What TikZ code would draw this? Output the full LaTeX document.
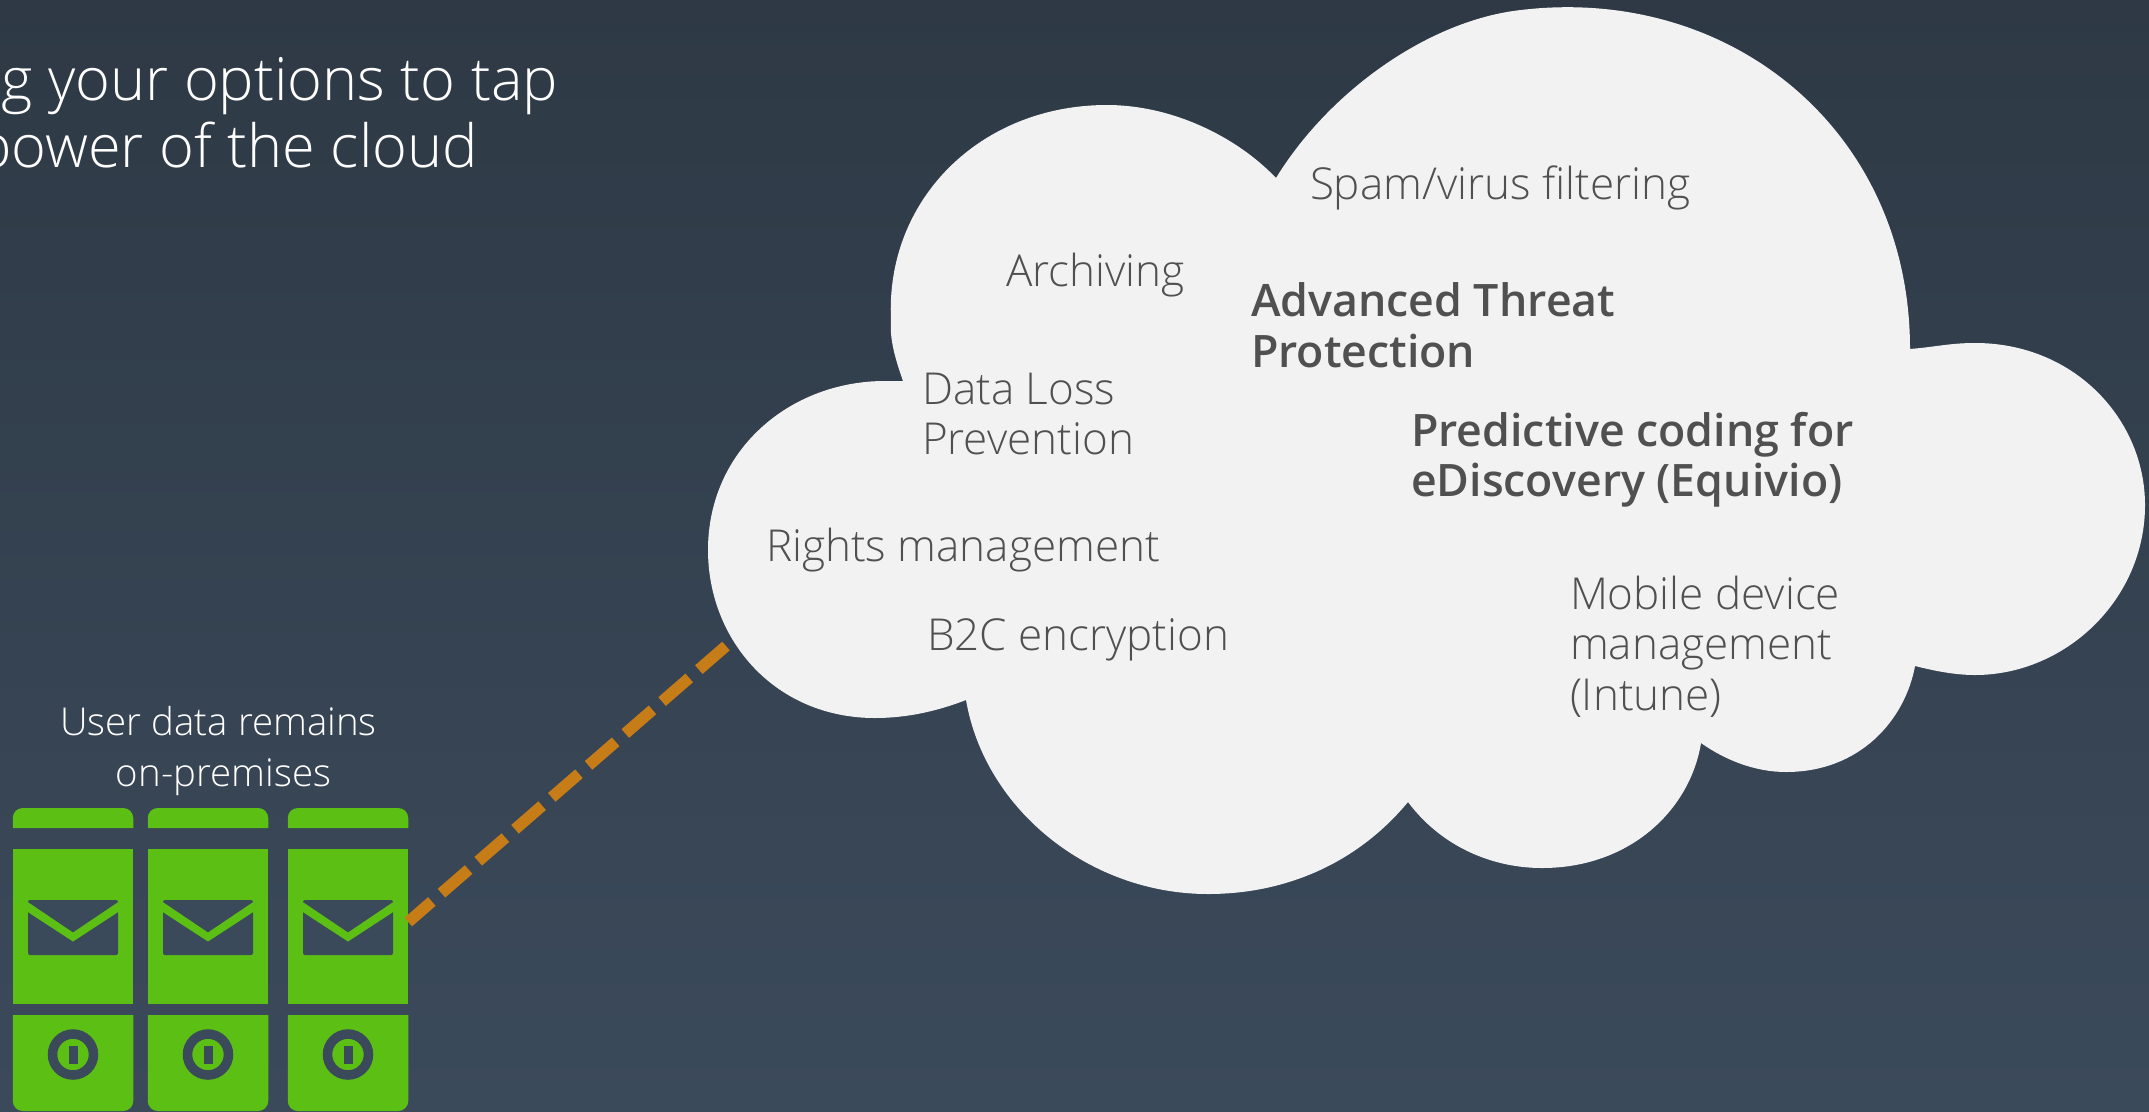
\documentclass[tikz,border=0pt]{standalone}
\usepackage{fontspec}
\setmainfont{Open Sans Light}
\newfontfamily\semifont{Open Sans Semibold}
\usetikzlibrary{positioning,shapes}

\definecolor{slatetop}{HTML}{2E3945}
\definecolor{slatelow}{HTML}{3B4A5B}
\definecolor{cloudgray}{HTML}{F2F2F2}
\definecolor{inkgray}{HTML}{505050}
\definecolor{srvgreen}{HTML}{5CBF13}
\definecolor{linkorange}{HTML}{C67C17}

\begin{document}
\begin{tikzpicture}[x=1pt,y=-1pt,semithick,node distance=135pt]
  \tikzstyle{every node}=[inner sep=0pt,outer sep=0pt]
  \tikzstyle{light}=[anchor=north west,align=left,text=inkgray,font=\fontsize{44}{50.5}\selectfont]
  \tikzstyle{heavy}=[anchor=north west,align=left,text=inkgray,font=\semifont\fontsize{44.7}{50.5}\selectfont]
  \tikzstyle{white}=[text=white,font=\fontsize{38.4}{50.5}\selectfont]
  \tikzstyle{srvbody}=[rectangle,fill=srvgreen,minimum width=120.5pt,minimum height=155pt]
  \tikzstyle{mailbox}=[rectangle,rounded corners=2pt,fill=slatelow,minimum width=90pt,minimum height=55pt]
  \tikzstyle{knob}=[circle,draw=slatelow,fill=srvgreen,line width=9.5pt,minimum size=41pt]
  \tikzstyle{knobbar}=[rectangle,fill=slatelow,minimum width=9pt,minimum height=18pt]

  \useasboundingbox (0,0) rectangle (2149,1111);
  \clip (0,0) rectangle (2149,1111);
  \shade[top color=slatetop,bottom color=slatelow] (0,0) rectangle (2149,1111);

  % cloud outline
  \fill[cloudgray] (1276,178) .. controls (1330,90) and (1430,20) .. (1521,10)
    .. controls (1730,-15) and (1910,130) .. (1910,349)
    .. controls (1935,347) and (1950,343) .. (1975,343)
    .. controls (2075,343) and (2145,420) .. (2145,505)
    .. controls (2145,600) and (2065,675) .. (1975,675)
    .. controls (1955,675) and (1935,671) .. (1915,666)
    .. controls (1905,720) and (1860,772) .. (1786,772)
    .. controls (1755,772) and (1725,760) .. (1701,743)
    .. controls (1690,810) and (1630,868) .. (1542,868)
    .. controls (1490,868) and (1440,845) .. (1408,802)
    .. controls (1360,860) and (1290,894) .. (1208,894)
    .. controls (1090,894) and (985,810) .. (966,700)
    .. controls (935,712) and (905,718) .. (875,718)
    .. controls (775,718) and (708,640) .. (708,550)
    .. controls (708,450) and (790,381) .. (885,381)
    -- (903,381)
    .. controls (892,350) and (890,335) .. (891,320)
    .. controls (885,200) and (980,105) .. (1107,105)
    .. controls (1170,105) and (1235,135) .. (1276,178) -- cycle;

  % title, cut by the slide edge
  \node (title1) [anchor=base east,text=white,font=\fontsize{59.5}{68}\selectfont] at (558,100) {g your options to tap};
  \node (title2) [anchor=base east,text=white,font=\fontsize{59.5}{68}\selectfont] at (478,167) {power of the cloud};

  % cloud texts
  \node[light] (spam)     at (1310,166) {Spam/virus filtering};
  \node[light] (archive)  at (1006,253) {Archiving};
  \node[heavy] (threat)   at (1251,283) {Advanced Threat\\Protection};
  \node[light] (dlp)      at (922,373)  {Data Loss\\Prevention};
  \node[heavy] (predict)  at (1411,412) {Predictive coding for\\eDiscovery (Equivio)};
  \node[light] (rights)   at (766,528)  {Rights management};
  \node[light] (b2c)      at (927,619)  {B2C encryption};
  \node[light] (mobile)   at (1570,576) {Mobile device\\management\\(Intune)};

  % servers
  \node[white,align=center] (userdata) at (218.5,751) {User data remains\\\hspace*{10pt}on-premises};

  \node[srvbody] (body1) at (73,926.5) {};
  \node[srvbody] (body2) [right of=body1] {};
  \node[srvbody] (body3) [right of=body2,xshift=5pt] {};

  \foreach \n in {1,2,3} {
    \fill[srvgreen] (body\n.north west) ++(0,-21) [rounded corners=10pt] -- ++(0,-20) -- ++(120.5,0) [sharp corners] -- ++(0,20) -- cycle;
    \fill[srvgreen] (body\n.south west) ++(0,11) [rounded corners=10pt] -- ++(0,96) -- ++(120.5,0) [sharp corners] -- ++(0,-96) -- cycle;
    \node[mailbox] (mail\n) at ([yshift=-1pt]body\n.center) {};
    \fill[srvgreen] (mail\n) ++(-46,-26) -- ++(46,31) -- ++(46,-31) -- ++(0,10) -- ++(-46,30) -- ++(-46,-30) -- cycle;
    \node[knob] (knob\n) at ([yshift=-50.5pt]body\n.south) {};
    \node[knobbar] (bar\n) at (knob\n) {};
  }

  % link to the cloud
  \coordinate (cloudedge) at (726,646);
  \draw[linkorange,line width=11.5pt,dash pattern=on 36pt off 12.7pt] (cloudedge) -- ([yshift=4.5pt]body3.east);
\end{tikzpicture}
\end{document}
